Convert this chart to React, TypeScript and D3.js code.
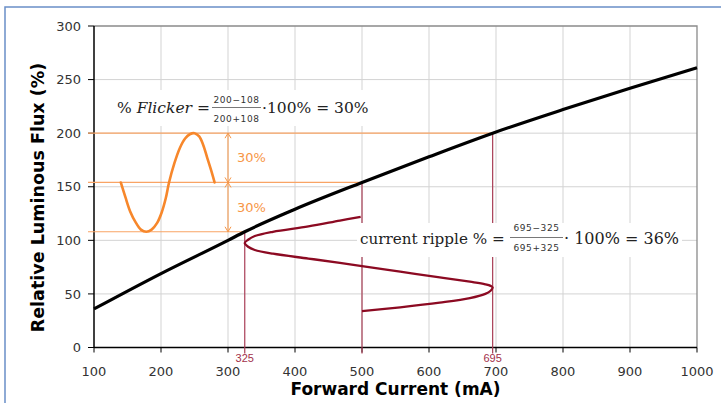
import React from "react";
import * as d3 from "d3";

const xTicks = [100, 200, 300, 400, 500, 600, 700, 800, 900, 1000];
const yTicks = [0, 50, 100, 150, 200, 250, 300];

const fluxCurrent = [100, 200, 300, 325, 400, 500, 600, 695, 800, 900, 1000];
const fluxValue = [36, 69, 100, 108, 129, 154, 178, 200, 222, 242, 261];

const flickerCurrent = [140, 147, 154, 162, 170, 178, 186, 194, 201, 207, 212, 220, 228, 236, 243, 250, 257, 263, 269, 275, 280];
const flickerValue = [154, 140, 127, 117, 110, 108, 110, 116, 126, 139, 154, 172, 186, 195, 199, 200, 197, 189, 177, 165, 154];

const rippleCurrent = [498, 467, 420, 367, 340, 330, 325, 330, 340, 367, 420, 467, 500, 557, 616, 661, 684, 692, 695, 692, 684, 661, 616, 557, 500];
const rippleValue = [122, 118.5, 113, 108, 104, 100.5, 97.5, 94, 91, 87.5, 83, 79, 76, 70.7, 65.5, 61.4, 59, 57.5, 56, 53, 50, 46, 41.8, 37.5, 34];

const fluxLevels = [200, 154, 108];
const levelEnds = [695, 500, 325];
const arrowCurrent = 300;
const rippleMarks = [325, 500, 695];
const rippleMarkTops = [108, 154, 200];
const rippleMarkLabels = ["325", "", "695"];
const flickerPct = ["30%", "30%"];

const W = 721;
const H = 403;

export default function App() {
  const x = d3.scaleLinear().domain([100, 1000]).range([94, 697]);
  const y = d3.scaleLinear().domain([0, 300]).range([347.5, 26]);
  const [x0, x1] = x.range();
  const [y0, y1] = y.range();

  const mainLine = d3
    .line<number>()
    .x((_, i) => x(fluxCurrent[i]))
    .y((d) => y(d))
    .curve(d3.curveMonotoneX)(fluxValue) as string;

  const flickerLine = d3
    .line<number>()
    .x((_, i) => x(flickerCurrent[i]))
    .y((d) => y(d))
    .curve(d3.curveCatmullRom.alpha(0.5))(flickerValue) as string;

  const rippleLine = d3
    .line<number>()
    .x((_, i) => x(rippleCurrent[i]))
    .y((d) => y(d))
    .curve(d3.curveCatmullRom.alpha(0.5))(rippleValue) as string;

  const orange = "#F79646";
  const orangeLine = "#F9A465";
  const maroon = "#8C0A22";
  const maroonLight = "#A83E56";

  const ax = x(arrowCurrent);
  const arrowPath = (ya: number, yb: number) => {
    const p = d3.path();
    p.moveTo(ax, ya);
    p.lineTo(ax, yb);
    p.moveTo(ax - 3, ya + 5);
    p.lineTo(ax, ya);
    p.lineTo(ax + 3, ya + 5);
    p.moveTo(ax - 3, yb - 5);
    p.lineTo(ax, yb);
    p.lineTo(ax + 3, yb - 5);
    return p.toString();
  };

  const sans = "'DejaVu Sans', Verdana, sans-serif";
  const serif = "'DejaVu Serif', Cambria, serif";

  return (
    <svg width={W} height={H} style={{ position: "absolute", left: 0, top: 0, background: "#fff" }}>
      <rect x={5} y={7} width={800} height={500} fill="none" stroke="#6A8FC8" strokeWidth={1.5} />

      {/* gridlines */}
      {xTicks.slice(1, -1).map((t) => (
        <line key={"gx" + t} x1={x(t)} x2={x(t)} y1={y1} y2={y0} stroke="#D3D3D3" strokeWidth={1} />
      ))}
      {yTicks.slice(1, -1).map((t) => (
        <line key={"gy" + t} x1={x0} x2={x1} y1={y(t)} y2={y(t)} stroke="#D3D3D3" strokeWidth={1} />
      ))}
      <path d={`M${x0},${y1}H${x1}V${y0}`} fill="none" stroke="#8A8A8A" strokeWidth={1.3} />

      {/* axes */}
      <line x1={x0} x2={x0} y1={y1} y2={y0} stroke="#000" strokeWidth={1.5} />
      <line x1={x0} x2={x1} y1={y0} y2={y0} stroke="#000" strokeWidth={1.5} />
      {yTicks.map((t) => (
        <g key={"ty" + t}>
          <line x1={x0 - 6} x2={x0} y1={y(t)} y2={y(t)} stroke="#000" strokeWidth={1} />
          <text x={x0 - 13} y={y(t) + 4.7} textAnchor="end" fontFamily={sans} fontSize={13} fill="#333">
            {t}
          </text>
        </g>
      ))}
      {xTicks.map((t) => (
        <g key={"tx" + t}>
          <line x1={x(t)} x2={x(t)} y1={y0} y2={y0 + 5} stroke="#000" strokeWidth={1} />
          <text x={x(t)} y={376} textAnchor="middle" fontFamily={sans} fontSize={13} fill="#333">
            {t}
          </text>
        </g>
      ))}

      {/* orange reference lines */}
      {fluxLevels.map((v, i) => (
        <line key={"ol" + v} x1={x0 - 6} x2={x(levelEnds[i])} y1={y(v)} y2={y(v)} stroke={orangeLine} strokeWidth={1.2} />
      ))}
      <path d={arrowPath(y(fluxLevels[0]), y(fluxLevels[1]))} fill="none" stroke={orange} strokeWidth={1} />
      <path d={arrowPath(y(fluxLevels[1]), y(fluxLevels[2]))} fill="none" stroke={orange} strokeWidth={1} />
      <text x={ax + 9} y={(y(fluxLevels[0]) + y(fluxLevels[1])) / 2 + 4.5} fontFamily={sans} fontSize={13} fill={orange}>
        {flickerPct[0]}
      </text>
      <text x={ax + 9} y={(y(fluxLevels[1]) + y(fluxLevels[2])) / 2 + 4.5} fontFamily={sans} fontSize={13} fill={orange}>
        {flickerPct[1]}
      </text>

      {/* flicker waveform */}
      <path d={flickerLine} fill="none" stroke="#F7872B" strokeWidth={2.6} strokeLinecap="round" />

      {/* ripple vertical marks */}
      {rippleMarks.map((m, i) => (
        <g key={"rm" + m}>
          <line x1={x(m)} x2={x(m)} y1={y(rippleMarkTops[i])} y2={y0 + 6} stroke={maroonLight} strokeWidth={1.2} />
          {rippleMarkLabels[i] && (
            <text x={x(m)} y={362} textAnchor="middle" fontFamily="'Liberation Sans', Arial, sans-serif" fontSize={11} fill="#A3304A">
              {rippleMarkLabels[i]}
            </text>
          )}
        </g>
      ))}

      {/* main curve */}
      <path d={mainLine} fill="none" stroke="#000" strokeWidth={3.2} />

      {/* flicker formula */}
      <rect x={112} y={90} width={258} height={36} fill="#fff" />
      <text x={117} y={113} fontFamily={serif} fontSize={15.5} fill="#222">
        <tspan>% </tspan>
        <tspan fontStyle="italic">Flicker</tspan>
        <tspan> =</tspan>
      </text>
      <text x={236.5} y={103} textAnchor="middle" fontFamily={sans} fontSize={9} letterSpacing={0.6} fill="#333">
        200−108
      </text>
      <line x1={212} x2={261} y1={107.5} y2={107.5} stroke="#555" strokeWidth={0.8} />
      <text x={236.5} y={121.5} textAnchor="middle" fontFamily={sans} fontSize={9} letterSpacing={0.6} fill="#333">
        200+108
      </text>
      <text x={262} y={113} fontFamily={serif} fontSize={15.5} fill="#222">
        ·100% = 30%
      </text>

      {/* ripple formula */}
      <rect x={357} y={223} width={325} height={34} fill="#fff" />
      <text x={360} y={243.5} fontFamily={serif} fontSize={15.2} fill="#222">
        current ripple % =
      </text>
      <text x={536.5} y={231} textAnchor="middle" fontFamily={sans} fontSize={9} letterSpacing={0.6} fill="#333">
        695−325
      </text>
      <line x1={510} x2={563} y1={237.5} y2={237.5} stroke="#555" strokeWidth={0.8} />
      <text x={536.5} y={251} textAnchor="middle" fontFamily={sans} fontSize={9} letterSpacing={0.6} fill="#333">
        695+325
      </text>
      <text x={564} y={243.5} fontFamily={serif} fontSize={16} fill="#222">
        · 100% = 36%
      </text>

      {/* ripple waveform */}
      <path d={rippleLine} fill="none" stroke={maroon} strokeWidth={2.3} />

      {/* axis titles */}
      <text x={395.5} y={395} textAnchor="middle" fontFamily={sans} fontWeight="bold" fontSize={17} fill="#000">
        Forward Current (mA)
      </text>
      <text
        transform={`translate(44, 197.5) rotate(-90)`}
        textAnchor="middle"
        fontFamily={sans}
        fontWeight="bold"
        fontSize={17.5}
        fill="#000"
      >
        Relative Luminous Flux (%)
      </text>
    </svg>
  );
}
